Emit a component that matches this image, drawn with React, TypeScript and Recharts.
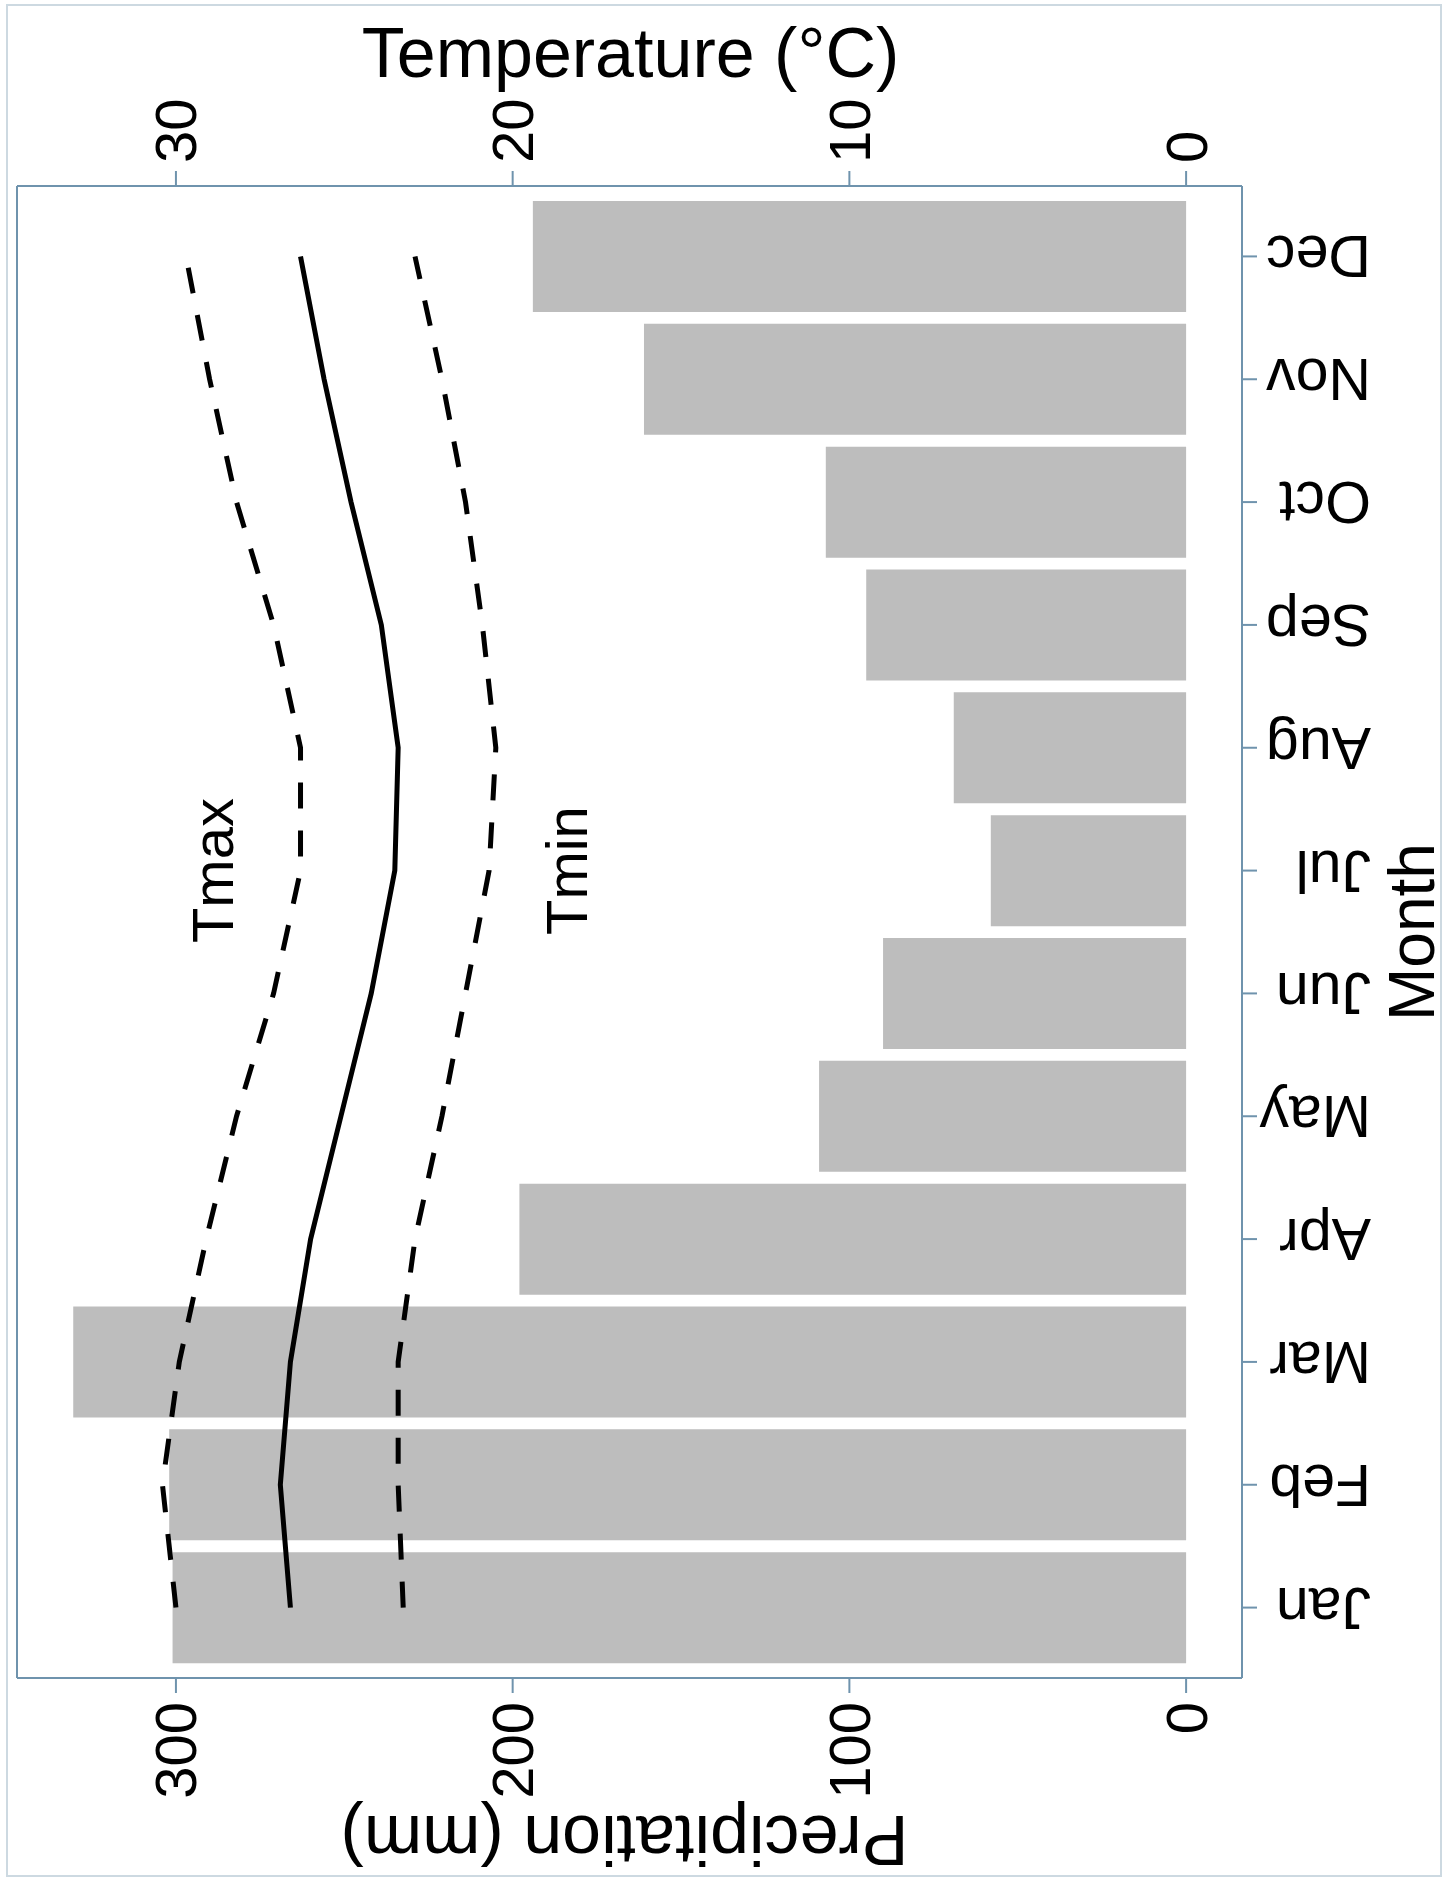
import React from 'react'
import {
  ComposedChart,
  Bar,
  Line,
  XAxis,
  YAxis,
  Label,
  ReferenceDot,
} from 'recharts'

// Monthly climate data (figure is drawn rotated: months run bottom -> top)
const months = ['Jan', 'Feb', 'Mar', 'Apr', 'May', 'Jun', 'Jul', 'Aug', 'Sep', 'Oct', 'Nov', 'Dec']
const precipitation = [301, 302, 330.5, 198, 109, 90, 58, 69, 95, 107, 161, 194]
const tmax = [30.0, 30.4, 29.9, 29.1, 28.2, 27.1, 26.3, 26.3, 27.1, 28.2, 29.0, 29.7]
const tmean = [26.6, 26.9, 26.6, 26.0, 25.1, 24.2, 23.5, 23.4, 23.9, 24.8, 25.6, 26.3]
const tmin = [23.25, 23.4, 23.4, 22.9, 22.1, 21.4, 20.7, 20.5, 20.9, 21.4, 22.1, 22.9]

const precipTicks = [0, 100, 200, 300]
const tempTicks = [0, 10, 20, 30]

// Series annotations (placed in data units)
const seriesLabels = [
  { text: 'Tmax', temp: 28.9, month: 'Jul' },
  { text: 'Tmin', temp: 18.4, month: 'Jul' },
]

const PRECIP_DOMAIN: [number, number] = [-16.6, 347.2]
const TEMP_DOMAIN: [number, number] = [-1.66, 34.72]

const COLORS = {
  bar: '#bdbdbd',
  frame: '#6f93ad',
  outer: '#cdd9e1',
  text: '#000000',
}

const FONT = '"Liberation Sans", Arial, Helvetica, sans-serif'

const data = months.map((month, i) => ({
  month,
  precip: precipitation[i],
  tmax: tmax[i],
  tmean: tmean[i],
  tmin: tmin[i],
}))

const frameLine = { stroke: COLORS.frame, strokeWidth: 2 }

function PrecipTick(props: any) {
  const { x, y, payload } = props
  const ty = y + 9
  return (
    <text
      x={x}
      y={ty}
      transform={`rotate(-90, ${x}, ${ty})`}
      textAnchor="end"
      dominantBaseline="central"
      fontSize={58}
      fontFamily={FONT}
      fill={COLORS.text}
    >
      {payload.value}
    </text>
  )
}

function TempTick(props: any) {
  const { x, y, payload } = props
  const ty = y - 8
  return (
    <text
      x={x}
      y={ty}
      transform={`rotate(-90, ${x}, ${ty})`}
      textAnchor="start"
      dominantBaseline="central"
      fontSize={58}
      fontFamily={FONT}
      fill={COLORS.text}
    >
      {payload.value}
    </text>
  )
}

function MonthTick(props: any) {
  const { x, y, payload } = props
  const tx = x + 114
  return (
    <text
      x={tx}
      y={y}
      transform={`rotate(180, ${tx}, ${y})`}
      textAnchor="start"
      dominantBaseline="central"
      fontSize={59}
      fontFamily={FONT}
      fill={COLORS.text}
    >
      {payload.value}
    </text>
  )
}

const renderTempTitle = (props: any) => {
  const vb = props.viewBox || { x: 17, y: 0, width: 1225, height: 186 }
  return (
    <text
      x={vb.x + vb.width / 2 + 1}
      y={77}
      textAnchor="middle"
      fontSize={70}
      fontFamily={FONT}
      fill={COLORS.text}
    >
      Temperature (°C)
    </text>
  )
}

const renderPrecipTitle = (props: any) => {
  const vb = props.viewBox || { x: 17, y: 1678, width: 1225, height: 203 }
  const cx = vb.x + vb.width / 2 - 5
  const cy = vb.y + 138
  return (
    <text
      x={cx}
      y={cy}
      transform={`rotate(180, ${cx}, ${cy})`}
      textAnchor="middle"
      fontSize={70}
      fontFamily={FONT}
      fill={COLORS.text}
    >
      Precipitation (mm)
    </text>
  )
}

const renderMonthTitle = (props: any) => {
  const vb = props.viewBox || { x: 1242, y: 186, width: 203, height: 1492 }
  const cx = vb.x + 192
  const cy = vb.y + vb.height / 2
  return (
    <text
      x={cx}
      y={cy}
      transform={`rotate(-90, ${cx}, ${cy})`}
      textAnchor="middle"
      fontSize={64}
      fontFamily={FONT}
      fill={COLORS.text}
    >
      Month
    </text>
  )
}

const seriesLabelShape = (text: string) => (p: any) => (
  <text
    x={p.cx}
    y={p.cy}
    transform={`rotate(-90, ${p.cx}, ${p.cy})`}
    textAnchor="middle"
    dominantBaseline="central"
    fontSize={58}
    fontFamily={FONT}
    fill={COLORS.text}
  >
    {text}
  </text>
)

export default function App() {
  return (
    <div
      style={{
        position: 'absolute',
        left: 0,
        top: 0,
        width: 1445,
        height: 1881,
        background: '#ffffff',
      }}
    >
      <div
        style={{
          position: 'absolute',
          left: 6,
          top: 4,
          width: 1436,
          height: 1873,
          border: `2px solid ${COLORS.outer}`,
          boxSizing: 'border-box',
        }}
      />
      <ComposedChart
        layout="vertical"
        width={1445}
        height={1881}
        data={data}
        margin={{ top: 0, right: 0, bottom: 0, left: 0 }}
      >
        <XAxis
          xAxisId="precip"
          type="number"
          orientation="bottom"
          domain={PRECIP_DOMAIN}
          allowDataOverflow
          reversed
          ticks={precipTicks}
          height={203}
          tickSize={15}
          tickMargin={0}
          axisLine={frameLine}
          tickLine={frameLine}
          tick={<PrecipTick />}
        >
          <Label content={renderPrecipTitle} />
        </XAxis>
        <XAxis
          xAxisId="temp"
          type="number"
          orientation="top"
          domain={TEMP_DOMAIN}
          allowDataOverflow
          reversed
          ticks={tempTicks}
          height={186}
          tickSize={15}
          tickMargin={0}
          axisLine={frameLine}
          tickLine={frameLine}
          tick={<TempTick />}
        >
          <Label content={renderTempTitle} />
        </XAxis>
        {/* left edge of the plot frame */}
        <YAxis
          yAxisId="frame"
          type="category"
          dataKey="month"
          orientation="left"
          width={17}
          tick={false}
          tickLine={false}
          axisLine={frameLine}
        />
        <YAxis
          yAxisId="month"
          type="category"
          dataKey="month"
          orientation="right"
          reversed
          width={203}
          padding={{ top: 9, bottom: 9 }}
          tickSize={15}
          tickMargin={0}
          axisLine={frameLine}
          tickLine={frameLine}
          tick={<MonthTick />}
        >
          <Label content={renderMonthTitle} />
        </YAxis>

        <Bar
          dataKey="precip"
          xAxisId="precip"
          yAxisId="month"
          fill={COLORS.bar}
          barSize={111}
          isAnimationActive={false}
        />
        <Line
          type="linear"
          dataKey="tmax"
          xAxisId="temp"
          yAxisId="month"
          stroke="#000"
          strokeWidth={5}
          strokeDasharray="26 22"
          dot={false}
          isAnimationActive={false}
        />
        <Line
          type="linear"
          dataKey="tmean"
          xAxisId="temp"
          yAxisId="month"
          stroke="#000"
          strokeWidth={5}
          dot={false}
          isAnimationActive={false}
        />
        <Line
          type="linear"
          dataKey="tmin"
          xAxisId="temp"
          yAxisId="month"
          stroke="#000"
          strokeWidth={5}
          strokeDasharray="26 22"
          dot={false}
          isAnimationActive={false}
        />

        {seriesLabels.map((l) => (
          <ReferenceDot
            key={l.text}
            xAxisId="temp"
            yAxisId="month"
            x={l.temp}
            y={l.month}
            r={0}
            ifOverflow="visible"
            shape={seriesLabelShape(l.text)}
          />
        ))}
      </ComposedChart>
    </div>
  )
}
